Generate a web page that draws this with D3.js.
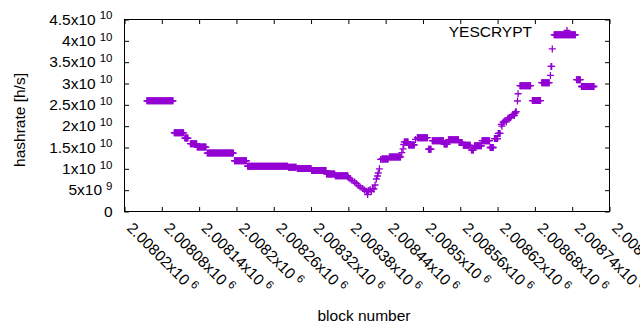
<!DOCTYPE html>
<html><head><meta charset="utf-8">
<script src="https://cdn.jsdelivr.net/npm/d3@7"></script>
<style>
body{margin:0;background:#fff}
text{font-family:"Liberation Sans",Arial,sans-serif;fill:#000}
</style>
</head><body><svg id="c" width="640" height="330"></svg>
<script>
// Runs of constant hashrate: first block, last block, value (single points have start == end)
const segStart = [2008056,2008100,2008117,2008126,2008137,2008153,2008197,2008218,2008284,2008298,2008321,2008345,2008359,
  2008380,2008383,2008386,2008390,2008393,2008396,2008399,2008403,2008406,2008409,2008411,2008412,2008415,2008417,2008419,
  2008421,2008423,2008425,2008427,2008428,2008430,2008432,
  2008434,2008446,2008466,2008468,2008469,2008470,2008477,2008488,2008491,2008509,2008515,2008534,2008541,2008558,2008565,
  2008578,2008583,2008595,2008608,2008615,2008621,
  2008626,2008627,2008629,2008630,2008632,2008634,2008636,2008637,2008639,2008641,2008642,2008644,2008645,2008647,2008648,2008649,2008650,
  2008652,2008653,
  2008656,2008676,2008691,2008705,2008706,2008708,2008711,2008747,2008755];
const segEnd = [2008098,2008115,2008122,2008136,2008151,2008195,2008216,2008282,2008296,2008320,2008344,2008358,2008379,
  2008380,2008383,2008386,2008390,2008393,2008396,2008399,2008403,2008406,2008409,2008411,2008412,2008415,2008417,2008419,
  2008421,2008423,2008425,2008427,2008428,2008430,2008432,
  2008444,2008464,2008466,2008468,2008469,2008476,2008486,2008488,2008507,2008513,2008533,2008539,2008557,2008563,2008576,
  2008581,2008594,2008607,2008613,2008620,2008624,
  2008626,2008627,2008629,2008630,2008632,2008634,2008636,2008637,2008639,2008641,2008642,2008644,2008645,2008647,2008648,2008649,2008650,
  2008652,2008653,
  2008673,2008689,2008703,2008705,2008707,2008708,2008745,2008753,2008775];
const segValue = [2.595e10,1.845e10,1.72e10,1.59e10,1.51e10,1.37e10,1.19e10,1.06e10,1.04e10,1.01e10,9.6e9,8.8e9,8.35e9,
  7.97e9,7.62e9,7.27e9,6.91e9,6.56e9,6.09e9,5.74e9,5.39e9,5.04e9,4.69e9,3.98e9,4.92e9,5.16e9,4.69e9,5.39e9,
  5.27e9,6.21e9,7.62e9,8.32e9,9.02e9,1.0e10,1.22e10,
  1.23e10,1.28e10,1.38e10,1.47e10,1.57e10,1.63e10,1.56e10,1.69e10,1.73e10,1.46e10,1.66e10,1.58e10,1.68e10,1.62e10,1.55e10,
  1.44e10,1.54e10,1.66e10,1.5e10,1.71e10,1.83e10,
  2.04e10,2.0e10,2.09e10,2.1e10,2.13e10,2.1e10,2.16e10,2.19e10,2.2e10,2.2e10,2.23e10,2.27e10,2.26e10,2.25e10,2.3e10,2.33e10,2.34e10,
  2.59e10,2.76e10,
  2.95e10,2.6e10,3.02e10,3.19e10,3.4e10,3.81e10,4.14e10,3.09e10,2.93e10];

const xTickValues = [2008020,2008080,2008140,2008200,2008260,2008320,2008380,2008440,2008500,2008560,2008620,2008680,2008740,2008800];
const xTickLabels = ["2.00802","2.00808","2.00814","2.0082","2.00826","2.00832","2.00838","2.00844","2.0085","2.00856","2.00862","2.00868","2.00874","2.0088"];
const xTickExp = ["6","6","6","6","6","6","6","6","6","6","6","6","6","6"];
const yTickValues = [0,5e9,1e10,1.5e10,2e10,2.5e10,3e10,3.5e10,4e10,4.5e10];
const yTickMant = ["0","5","1","1.5","2","2.5","3","3.5","4","4.5"];
const yTickExp = ["","9","10","10","10","10","10","10","10","10"];
const seriesName = "YESCRYPT";
const xTitle = "block number";
const yTitle = "hashrate [h/s]";

const points = [];
segStart.forEach((s, i) => { for (let b = s; b <= segEnd[i]; b++) points.push({b, v: segValue[i]}); });

const L = 124.5, R = 609.5, T = 19.5, B = 211.5;
const color = "#9400D3";
const svg = d3.select("#c");
const x = d3.scaleLinear().domain([2008020, 2008800]).range([L, R]);
const y = d3.scaleLinear().domain([0, 4.5e10]).range([B, T]);
const tk = 4.5;

function clean(g){ g.select(".domain").remove(); g.selectAll(".tick line").attr("stroke","#000"); }

// left axis with labels
const gl = svg.append("g").attr("transform",`translate(${L},0)`)
  .call(d3.axisLeft(y).tickValues(yTickValues).tickSizeInner(-tk).tickSizeOuter(0).tickPadding(12));
clean(gl);
gl.selectAll(".tick text").each(function(d,i){
  const t = d3.select(this).text(null).attr("font-size","15.5px").attr("dy",null).attr("y",4.8);
  t.append("tspan").text(yTickMant[i] + (yTickExp[i] ? "x10" : ""));
  if (yTickExp[i]) t.append("tspan").attr("dx",4).attr("dy",-5.5).attr("font-size","11.5px").text(yTickExp[i]);
});
// right mirror
const gr = svg.append("g").attr("transform",`translate(${R},0)`)
  .call(d3.axisRight(y).tickValues(yTickValues).tickSizeInner(-tk).tickSizeOuter(0).tickFormat(""));
clean(gr);
// bottom axis with rotated labels
const gb = svg.append("g").attr("transform",`translate(0,${B})`)
  .call(d3.axisBottom(x).tickValues(xTickValues).tickSizeInner(-tk).tickSizeOuter(0));
clean(gb);
gb.selectAll(".tick text").each(function(d,i){
  const t = d3.select(this).text(null).attr("font-size","15.5px").attr("x",0).attr("y",0).attr("dy",null)
    .attr("text-anchor","start").attr("transform","translate(1,17.5) rotate(45)");
  t.append("tspan").text(xTickLabels[i] + "x10");
  t.append("tspan").attr("dx",4).attr("dy",-5.5).attr("font-size","11.5px").text(xTickExp[i]);
});
// top mirror
const gt = svg.append("g").attr("transform",`translate(0,${T})`)
  .call(d3.axisTop(x).tickValues(xTickValues).tickSizeInner(-tk).tickSizeOuter(0).tickFormat(""));
clean(gt);

// border
svg.append("rect").attr("x",L).attr("y",T).attr("width",R-L).attr("height",B-T)
  .attr("fill","none").attr("stroke","#000").attr("stroke-width",1);

// points
const m = 3.5;
const plus = `M${-m},0H${m}M0,${-m}V${m}`;
svg.append("g").selectAll("path").data(points).join("path")
  .attr("transform", d => `translate(${x(d.b)},${y(d.v)})`)
  .attr("d", plus).attr("fill","none").attr("stroke",color).attr("stroke-width",1.3);

// legend
svg.append("text").attr("x",532).attr("y",36.5).attr("text-anchor","end").attr("font-size","15.5px").text(seriesName);
svg.append("path").attr("transform","translate(567,30.5)").attr("d",plus).attr("fill","none").attr("stroke",color).attr("stroke-width",1.3);

// titles
svg.append("text").attr("x",364).attr("y",321).attr("text-anchor","middle").attr("font-size","15.5px").text(xTitle);
svg.append("text").attr("transform","translate(25,120) rotate(-90)").attr("text-anchor","middle").attr("font-size","15.5px").text(yTitle);
</script>
</body></html>
